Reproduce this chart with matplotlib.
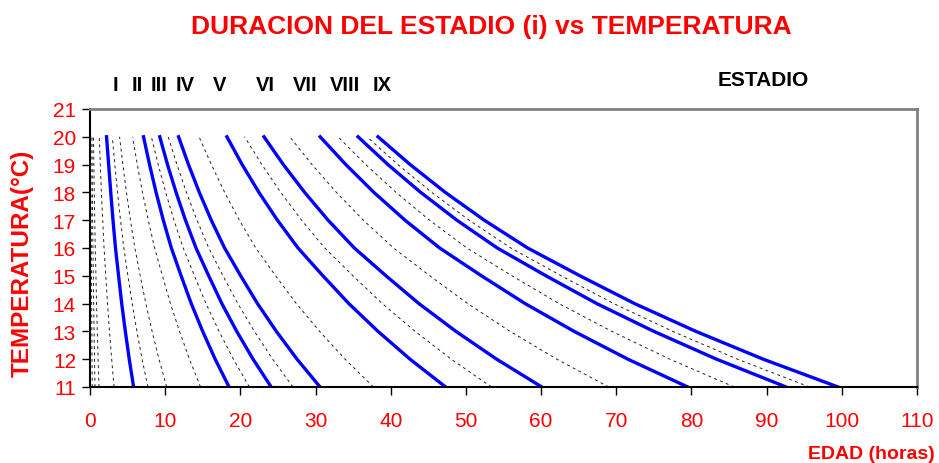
import numpy as np
import matplotlib.pyplot as plt

plt.rcParams['font.family'] = ['Liberation Sans', 'DejaVu Sans']

# temperatura (C) de cada punto
temps = [11, 12, 13, 14, 15, 16, 17, 18, 19, 20]

# estadios principales (horas), de 11 a 20 C
est_I    = [5.8, 5.22, 4.70, 4.22, 3.80, 3.39, 3.06, 2.76, 2.48, 2.20]
est_II   = [18.5, 16.65, 14.99, 13.47, 12.12, 10.82, 9.75, 8.79, 7.92, 7.12]
est_III  = [24.1, 21.69, 19.52, 17.54, 15.79, 14.10, 12.70, 11.45, 10.31, 9.28]
est_IV   = [30.6, 27.54, 24.79, 22.28, 20.04, 17.90, 16.13, 14.54, 13.10, 11.78]
est_V    = [47.3, 42.57, 38.31, 34.43, 30.98, 27.67, 24.93, 22.47, 20.24, 18.21]
est_VI   = [60.1, 54.09, 48.68, 43.75, 39.37, 35.16, 31.67, 28.55, 25.72, 23.14]
est_VII  = [79.5, 71.55, 64.40, 57.88, 52.07, 46.51, 41.90, 37.76, 34.03, 30.61]
est_VIII = [92.6, 83.34, 75.01, 67.41, 60.65, 54.17, 48.80, 43.99, 39.63, 35.65]
est_IX   = [99.5, 89.55, 80.60, 72.44, 65.17, 58.21, 52.44, 47.26, 42.59, 38.31]

# subestadios (lineas de trazos)
sub_1  = [0.30, 0.27, 0.24, 0.22, 0.20, 0.18, 0.16, 0.14, 0.13, 0.12]
sub_2  = [0.67, 0.60, 0.54, 0.49, 0.44, 0.39, 0.35, 0.32, 0.29, 0.26]
sub_3  = [1.20, 1.08, 0.97, 0.87, 0.79, 0.70, 0.63, 0.57, 0.51, 0.46]
sub_4  = [3.20, 2.88, 2.59, 2.33, 2.10, 1.87, 1.69, 1.52, 1.37, 1.23]
sub_5  = [7.70, 6.93, 6.24, 5.61, 5.04, 4.50, 4.06, 3.66, 3.30, 2.96]
sub_6  = [10.2, 9.18, 8.26, 7.43, 6.68, 5.97, 5.38, 4.85, 4.37, 3.93]
sub_7  = [14.7, 13.23, 11.91, 10.70, 9.63, 8.60, 7.75, 6.98, 6.29, 5.66]
sub_8  = [21.2, 19.08, 17.17, 15.43, 13.89, 12.40, 11.17, 10.07, 9.07, 8.16]
sub_9  = [27.0, 24.30, 21.87, 19.66, 17.69, 15.80, 14.23, 12.83, 11.56, 10.40]
sub_10 = [37.7, 33.93, 30.54, 27.45, 24.69, 22.05, 19.87, 17.91, 16.14, 14.51]
sub_11 = [53.4, 48.06, 43.25, 38.88, 34.98, 31.24, 28.14, 25.37, 22.86, 20.56]
sub_12 = [69.0, 62.10, 55.89, 50.23, 45.20, 40.37, 36.36, 32.78, 29.53, 26.57]
sub_13 = [85.7, 77.13, 69.42, 62.39, 56.13, 50.13, 45.16, 40.71, 36.68, 32.99]
sub_14 = [95.7, 86.13, 77.52, 69.67, 62.68, 55.98, 50.43, 45.46, 40.96, 36.84]

stage_names = ["I", "II", "III", "IV", "V", "VI", "VII", "VIII", "IX"]
x_ticks = list(range(0, 111, 10))
y_ticks = list(range(11, 22))

estadios = [est_I, est_II, est_III, est_IV, est_V, est_VI, est_VII, est_VIII, est_IX]
subestadios = [sub_1, sub_2, sub_3, sub_4, sub_5, sub_6, sub_7, sub_8, sub_9,
               sub_10, sub_11, sub_12, sub_13, sub_14]

W, H = 939, 464
fig = plt.figure(figsize=(W/100, H/100), dpi=100)
ax = fig.add_axes([90/W, 1 - 388/H, (917-90)/W, (388-110)/H])

for s in subestadios:
    ax.plot(s, temps, color='#202020', lw=0.7, ls=(0, (3, 3.5)))
for e in estadios:
    ax.plot(e, temps, color='#0000ff', lw=2.4)

ax.set_xlim(0, 110)
ax.set_ylim(11, 21)
ax.set_xticks(x_ticks)
ax.set_yticks(y_ticks)
ax.tick_params(direction='out', length=6, width=1, colors='black',
               labelcolor='red', labelsize=15)
ax.tick_params(axis='x', pad=11)
ax.tick_params(axis='y', pad=4)
for side in ['left', 'bottom']:
    ax.spines[side].set_color('black')
    ax.spines[side].set_linewidth(1.5)
for side in ['top', 'right']:
    ax.spines[side].set_color('#808080')
    ax.spines[side].set_linewidth(2)

# textos
fig.text(491/W, 1 - 27/H, "DURACION DEL ESTADIO (i) vs TEMPERATURA",
         color='red', fontsize=19, fontweight='bold', ha='center', va='center')
stage_px = [115, 137, 159, 185, 220, 265, 305, 345, 382]
for name, px in zip(stage_names, stage_px):
    fig.text(px/W, 1 - 86/H, name, fontsize=14.5, fontweight='bold',
             ha='center', va='center')
fig.text(763/W, 1 - 80/H, "ESTADIO", fontsize=15, fontweight='bold',
         ha='center', va='center')
fig.text(935/W, 1 - 455/H, "EDAD (horas)", color='red', fontsize=14,
         fontweight='bold', ha='right', va='center')
fig.text(22/W, 1 - 263/H, "TEMPERATURA(°C)", color='red', fontsize=17.5,
         fontweight='bold', rotation=90, ha='center', va='center')

fig.savefig('out.png', dpi=100)
